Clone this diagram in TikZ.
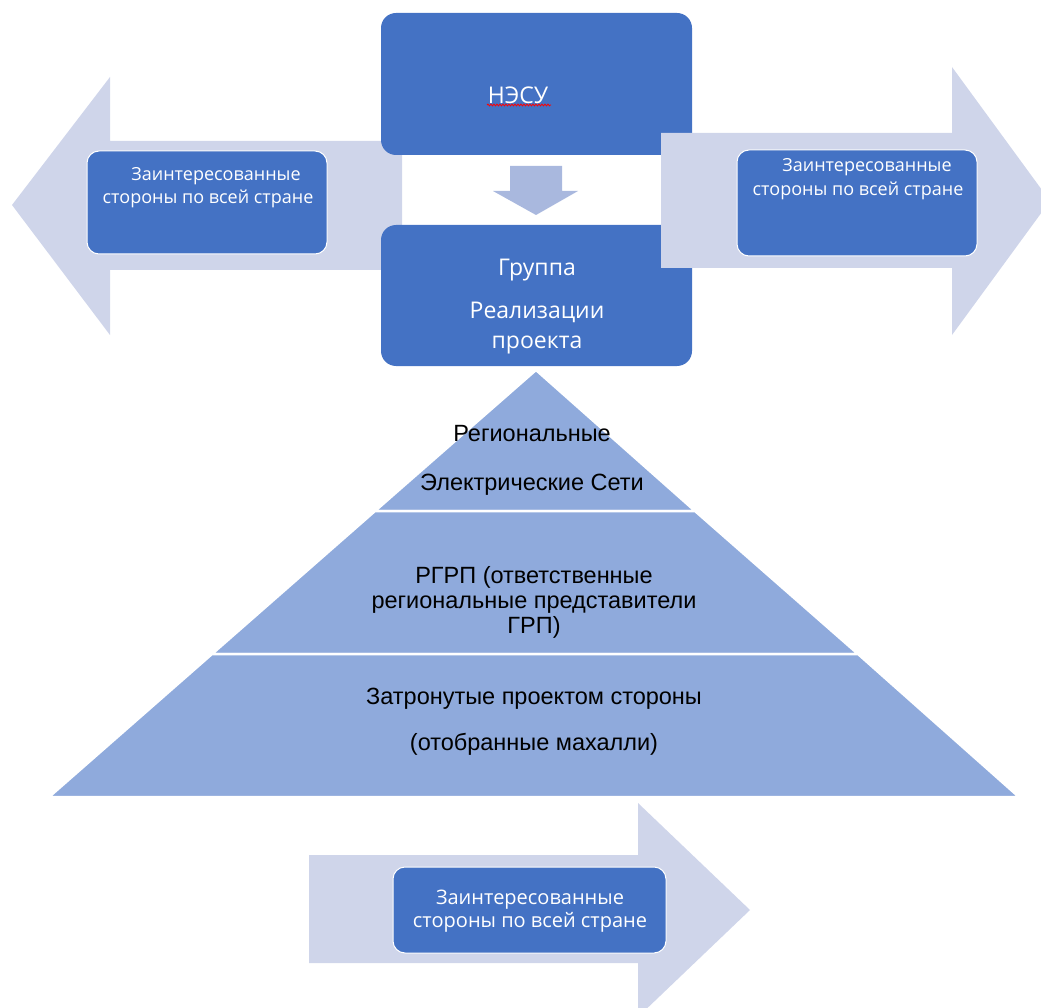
\documentclass[tikz,border=0pt]{standalone}
\usepackage{fontspec}
\setmainfont{Open Sans}
\newfontfamily\pyrfont{Liberation Sans}
\usetikzlibrary{decorations.pathmorphing}
\definecolor{boxblue}{HTML}{4472C4}
\definecolor{lav}{HTML}{CFD5EA}
\definecolor{darrow}{HTML}{A9B8DE}
\definecolor{pyr}{HTML}{8FAADC}
\begin{document}
\begin{tikzpicture}[x=1pt,y=-1pt,
  bigbox/.style={fill=boxblue, draw=none, rounded corners=15pt, inner sep=0pt},
  smallbox/.style={fill=boxblue, draw=white, line width=1pt, rounded corners=12pt, inner sep=0pt},
  wtext/.style={text=white, align=center, inner sep=0pt},
  btext/.style={text=black, align=center, inner sep=0pt},
  layer/.style={fill=pyr, draw=white, line width=2.5pt, line join=miter},
  bigarrow/.style={fill=lav, draw=none},
  downarrow/.style={fill=darrow, draw=none}]
\useasboundingbox (0,0) rectangle (1041,1008);
\clip (0,0) rectangle (1041,1008);
% left arrow (under boxes)
\fill[bigarrow] (12,205) -- (110,77) -- (110,141) -- (402,141) -- (402,270) -- (110,270) -- (110,335) -- cycle;
\node[smallbox, minimum width=240pt, minimum height=103pt] (lbox) at (207,202.5) {};
\node[wtext, font=\fontsize{18}{23}\selectfont] (ltext) at (208,188) {\hspace*{16pt}Заинтересованные\\стороны по всей стране};
% central boxes
\node[bigbox, minimum width=311pt, minimum height=142pt] (nesu) at (536.5,84) {};
\node[wtext, font=\fontsize{23}{27}\selectfont] (nesutext) at (518,95) {НЭСУ};
\coordinate (ulA) at (487,105);
\coordinate (ulB) at (551,105);
\draw[red, line width=0.8pt, decorate, decoration={snake, amplitude=0.9pt, segment length=3pt}] (ulA) -- (ulB);
\node[bigbox, minimum width=311pt, minimum height=141pt] (grp) at (536.5,295.5) {};
\node[wtext, font=\fontsize{23}{27}\selectfont] (grp1) at (537,270) {Группа};
\node[wtext, font=\fontsize{23}{30}\selectfont] (grp2) at (537,328) {Реализации\\проекта};
\fill[downarrow] (510,166) -- (562,166) -- (562,191) -- (578,191) -- (536,215) -- (493,191) -- (510,191) -- cycle;
% right arrow (over boxes)
\fill[bigarrow] (661,133) -- (952,133) -- (952,67) -- (1050,201) -- (952,335) -- (952,268) -- (661,268) -- cycle;
\node[smallbox, minimum width=240pt, minimum height=106pt] (rbox) at (857,203) {};
\node[wtext, font=\fontsize{18}{24}\selectfont] (rtext) at (858,179.5) {\hspace*{18pt}Заинтересованные\\стороны по всей стране};
% pyramid
\path[layer] (536,370) -- (695,511) -- (375,511) -- cycle;
\path[layer] (375,511) -- (695,511) -- (858,654) -- (212,654) -- cycle;
\path[layer] (212,654) -- (858,654) -- (1019,797) -- (49,797) -- cycle;
\node[btext, font=\pyrfont\fontsize{23.5}{24}\selectfont] (p1) at (532,460.5) {Региональные\\[25pt]Электрические Сети};
\node[btext, font=\pyrfont\fontsize{23.5}{25}\selectfont] (p2) at (534,602) {РГРП (ответственные\\региональные представители\\ГРП)};
\node[btext, font=\pyrfont\fontsize{23.5}{24}\selectfont] (p3) at (534,722) {Затронутые проектом стороны\\[22pt](отобранные махалли)};
% bottom arrow
\fill[bigarrow] (309,855) -- (638,855) -- (638,803) -- (750,910) -- (638,1017) -- (638,963) -- (309,963) -- cycle;
\node[smallbox, minimum width=273pt, minimum height=86pt] (bbox) at (529.5,910) {};
\node[wtext, font=\fontsize{20}{23}\selectfont] (btext) at (530,911) {Заинтересованные\\стороны по всей стране};
\end{tikzpicture}
\end{document}
